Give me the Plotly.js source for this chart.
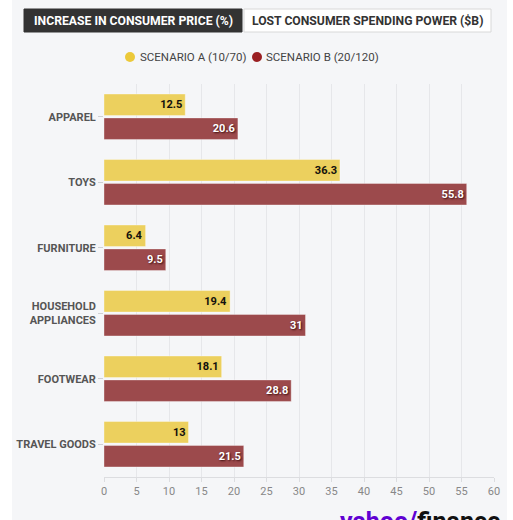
<!DOCTYPE html>
<html>
<head>
<meta charset="utf-8">
<script src="https://cdn.plot.ly/plotly-3.0.1.min.js"></script>
<style>
  html, body { margin: 0; padding: 0; background: #ffffff; }
  #chart { position: absolute; left: 12px; top: 0; width: 495px; height: 520px; }
</style>
</head>
<body>
<div id="chart"></div>
<script>
// ---- data ----
const categories = ["APPAREL", "TOYS", "FURNITURE", "HOUSEHOLD<br>APPLIANCES", "FOOTWEAR", "TRAVEL GOODS"];
const scenarioA = [12.5, 36.3, 6.4, 19.4, 18.1, 13];
const scenarioB = [20.6, 55.8, 9.5, 31, 28.8, 21.5];
const seriesNames = ["SCENARIO A (10/70)", "SCENARIO B (20/120)"];
const tabLabels = ["INCREASE IN CONSUMER PRICE (%)", "LOST CONSUMER SPENDING POWER ($B)"];
const xTicks = [0, 5, 10, 15, 20, 25, 30, 35, 40, 45, 50, 55, 60];

// ---- style ----
const YELLOW = "#ecd05e";
const RED = "#9c4a4c";
const DOT_COLORS = ["#ecc93a", "#9a1f22"];
const BG = "#f5f6f8";
const FONT = "Roboto, 'Liberation Sans', sans-serif";

// geometry (div pixel coords) for converting decorations
const W = 495, H = 520;
const M = { l: 92, r: 13, t: 84, b: 43 };
const pw = W - M.l - M.r, ph = H - M.t - M.b;
const OFF = 12; // div left offset in page
const px = (absX) => (absX - OFF - M.l) / pw;
const py = (absY) => (H - M.b - absY) / ph;

const barText = (v) => v.map(String);

const traces = [
  {
    type: "bar", orientation: "h", name: seriesNames[0], showlegend: false,
    y: categories, x: scenarioA, text: barText(scenarioA),
    textposition: "inside", insidetextanchor: "end", constraintext: "none",
    textfont: { family: FONT, size: 11, color: "#111111", weight: 700, shadow: "0px 0px 2px #e8c440" },
    marker: { color: YELLOW, line: { color: "rgba(255,255,255,0.35)", width: 1 } },
    hoverinfo: "skip"
  },
  {
    type: "bar", orientation: "h", name: seriesNames[1], showlegend: false,
    y: categories, x: scenarioB, text: barText(scenarioB),
    textposition: "inside", insidetextanchor: "end", constraintext: "none",
    textfont: { family: FONT, size: 11, color: "#ffffff", weight: 700, shadow: "1px 1px 2px #3a0c0c" },
    marker: { color: RED, line: { color: "rgba(255,255,255,0.35)", width: 1 } },
    hoverinfo: "skip"
  }
];

// legend positions (page pixels)
const legendDots = [130, 257];
const legendTextX = [139, 265];
const legendY = 57;

const shapes = [
  { type: "rect", xref: "paper", yref: "paper", x0: px(24), x1: px(242), y0: py(32), y1: py(9),
    fillcolor: "#333333", line: { color: "#333333", width: 1 }, layer: "above" },
  { type: "rect", xref: "paper", yref: "paper", x0: px(244), x1: px(491), y0: py(32), y1: py(9),
    fillcolor: "#ffffff", line: { color: "#d8d8d8", width: 1 }, layer: "above" }
];
seriesNames.forEach((n, i) => {
  shapes.push({ type: "circle", xref: "paper", yref: "paper",
    xsizemode: "pixel", ysizemode: "pixel", xanchor: px(legendDots[i]), yanchor: py(legendY),
    x0: -5, x1: 5, y0: -5, y1: 5,
    fillcolor: DOT_COLORS[i], line: { width: 0 }, layer: "above" });
});

const annotations = [
  { xref: "paper", yref: "paper", x: px(133), y: py(20.5), xanchor: "center", yanchor: "middle",
    text: "<b>" + tabLabels[0] + "</b>", showarrow: false,
    font: { family: FONT, size: 12.2, color: "#ffffff" } },
  { xref: "paper", yref: "paper", x: px(367.5), y: py(20.5), xanchor: "center", yanchor: "middle",
    text: "<b>" + tabLabels[1] + "</b>", showarrow: false,
    font: { family: FONT, size: 12.2, color: "#333333" } },
  { xref: "paper", yref: "paper", x: px(502), y: py(505), xanchor: "right", yanchor: "top",
    text: "<b><span style='color:#6001d2'>yahoo/</span>finance</b>", showarrow: false,
    font: { family: FONT, size: 25, color: "#111111" } }
];
seriesNames.forEach((n, i) => {
  annotations.push({ xref: "paper", yref: "paper", x: px(legendTextX[i]), y: py(legendY),
    xanchor: "left", yanchor: "middle", text: n, showarrow: false, borderpad: 0,
    font: { family: FONT, size: 11.5, color: "#444444" } });
});

const layout = {
  width: W, height: H,
  margin: M,
  paper_bgcolor: BG, plot_bgcolor: BG,
  barmode: "group", bargap: 0.27, bargroupgap: 0.1,
  showlegend: false,
  xaxis: {
    range: [0, 60], tickvals: xTicks, ticktext: xTicks.map(String),
    showgrid: true, gridcolor: "#e6e7ea", gridwidth: 1, zeroline: false,
    showline: true, linecolor: "#dcdde0", linewidth: 1,
    ticks: "outside", ticklen: 4, tickcolor: "#dcdde0",
    tickfont: { family: FONT, size: 11, color: "#888888" },
    fixedrange: true
  },
  yaxis: {
    type: "category", autorange: "reversed",
    showgrid: false, zeroline: false, showline: false,
    ticks: "outside", ticklen: 5, tickcolor: "#cfd0d3",
    tickfont: { family: FONT, size: 11, color: "#555555", weight: 700 },
    fixedrange: true
  },
  shapes: shapes,
  annotations: annotations
};

Plotly.newPlot("chart", traces, layout, { displayModeBar: false, staticPlot: true });
</script>
</body>
</html>
